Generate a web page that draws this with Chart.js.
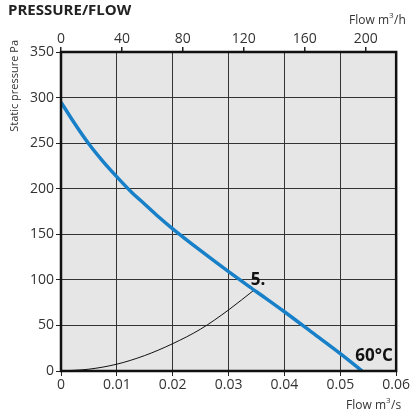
<!DOCTYPE html>
<html>
<head>
<meta charset="utf-8">
<script src="https://cdn.jsdelivr.net/npm/chart.js@4"></script>
<style>
  html, body { margin: 0; padding: 0; background: #fff; }
  #wrap { width: 411px; height: 412px; position: relative; }
</style>
</head>
<body>
<div id="wrap"><canvas id="myCanvas"></canvas></div>
<script>
// fan curve at 60°C (flow m3/s -> static pressure Pa)
const fanFlow = [0, 0.0025, 0.005, 0.0075, 0.01, 0.0125, 0.015, 0.0175, 0.02, 0.025, 0.03, 0.035, 0.04, 0.045, 0.05, 0.0539];
const fanPressure = [295, 271, 249, 230, 213, 197, 183, 169, 156, 132, 109, 87, 65, 42, 19, 0];

// system curve "5."
const sysFlow = [0, 0.005, 0.01, 0.015, 0.02, 0.025, 0.03, 0.0346];
const sysPressure = [0, 2, 7.5, 17, 30, 46, 67, 89];

const xTicks = [0, 0.01, 0.02, 0.03, 0.04, 0.05, 0.06];
const topTicks = [0, 40, 80, 120, 160, 200];
const yTicks = [0, 50, 100, 150, 200, 250, 300, 350];

const canvas = document.querySelector("#myCanvas");
const font = "'Open Sans', 'DejaVu Sans', sans-serif";

const toPoints = (xs, ys) => xs.map((x, i) => ({ x: x, y: ys[i] }));

// background + frame + free texts
const decor = {
  id: "decor",
  beforeDraw(chart) {
    const { ctx, chartArea: a } = chart;
    ctx.save();
    ctx.fillStyle = "#e6e6e6";
    ctx.fillRect(a.left, a.top, a.right - a.left, a.bottom - a.top);
    ctx.restore();
  },
  afterDraw(chart) {
    const { ctx, chartArea: a } = chart;
    ctx.save();
    ctx.strokeStyle = "#111";
    ctx.lineWidth = 2.5;
    ctx.strokeRect(a.left, a.top, a.right - a.left, a.bottom - a.top);

    ctx.fillStyle = "#222";
    ctx.font = "bold 15px " + font;
    ctx.textBaseline = "alphabetic";
    ctx.textAlign = "left";
    ctx.fillText("PRESSURE/FLOW", 8, 15);

    // top axis title
    ctx.font = "12px " + font;
    ctx.fillStyle = "#333";
    ctx.textAlign = "right";
    ctx.fillText("Flow m", 389, 24);
    ctx.font = "8px " + font;
    ctx.textAlign = "left";
    ctx.fillText("3", 389, 18);
    ctx.font = "12px " + font;
    ctx.fillText("/h", 394, 24);

    // bottom axis title
    ctx.textAlign = "right";
    ctx.fillText("Flow m", 386, 409);
    ctx.font = "8px " + font;
    ctx.textAlign = "left";
    ctx.fillText("3", 386, 403);
    ctx.font = "12px " + font;
    ctx.fillText("/s", 391, 409);

    // y axis title
    ctx.save();
    ctx.translate(18, 40);
    ctx.rotate(-Math.PI / 2);
    ctx.textAlign = "right";
    ctx.font = "11px " + font;
    ctx.fillText("Static pressure Pa", 0, 0);
    ctx.restore();

    // curve labels
    ctx.fillStyle = "#111";
    ctx.textAlign = "center";
    ctx.font = "bold 17px " + font;
    ctx.fillText("5.", 258, 285);
    ctx.font = "bold 17px " + font;
    ctx.fillText("60°C", 374, 361);
    ctx.restore();
  }
};

const config = {
  type: "scatter",
  data: {
    datasets: [
      {
        label: "60°C",
        data: toPoints(fanFlow, fanPressure),
        showLine: true,
        borderColor: "rgb(24,128,200)",
        borderWidth: 3.5,
        pointRadius: 0,
        cubicInterpolationMode: "monotone",
        xAxisID: "x",
        yAxisID: "y",
      },
      {
        label: "5.",
        data: toPoints(sysFlow, sysPressure),
        showLine: true,
        borderColor: "#111",
        borderWidth: 1,
        pointRadius: 0,
        cubicInterpolationMode: "monotone",
        xAxisID: "x",
        yAxisID: "y",
      },
    ],
  },
  options: {
    responsive: true,
    maintainAspectRatio: false,
    animation: false,
    layout: { padding: { left: 0, right: 14, top: 0, bottom: 0 } },
    plugins: {
      legend: { display: false },
      tooltip: { enabled: false },
    },
    scales: {
      x: {
        type: "linear",
        position: "bottom",
        min: 0,
        max: 0.06,
        afterBuildTicks: (s) => { s.ticks = xTicks.map((v) => ({ value: v })); },
        afterFit: (s) => { s.height = 41; },
        grid: { color: "#333", lineWidth: 1, tickLength: 5, tickColor: "#222" },
        border: { display: false },
        ticks: {
          color: "#333",
          font: { family: font, size: 14 },
          padding: 1,
          maxRotation: 0,
          callback: (v) => (v === 0 ? "0" : (+v).toFixed(2)),
        },
      },
      x2: {
        type: "linear",
        position: "top",
        min: 0,
        max: 220,
        afterBuildTicks: (s) => { s.ticks = topTicks.map((v) => ({ value: v })); },
        afterFit: (s) => { s.height = 52; },
        grid: { drawOnChartArea: false, tickLength: 5, tickColor: "#222", lineWidth: 1.5 },
        border: { display: false },
        ticks: {
          color: "#333",
          font: { family: font, size: 14 },
          padding: 0,
          maxRotation: 0,
        },
      },
      y: {
        type: "linear",
        position: "left",
        min: 0,
        max: 350,
        afterBuildTicks: (s) => { s.ticks = yTicks.map((v) => ({ value: v })); },
        afterFit: (s) => { s.width = 61; },
        grid: { color: "#333", lineWidth: 1, tickLength: 5, tickColor: "#222" },
        border: { display: false },
        ticks: {
          color: "#333",
          font: { family: font, size: 14 },
          padding: 2,
        },
      },
    },
  },
  plugins: [decor],
};

const myChart = new Chart(canvas, config);
</script>
</body>
</html>
